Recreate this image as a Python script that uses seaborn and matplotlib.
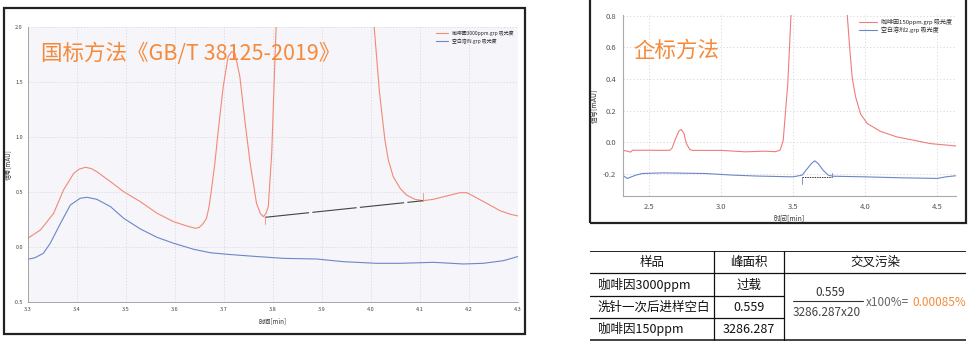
import matplotlib
matplotlib.use("Agg")
import matplotlib.pyplot as plt
from matplotlib.patches import Rectangle
from matplotlib.lines import Line2D
import seaborn as sns
import pandas as pd

sns.set_theme(style="white")
plt.rcParams["font.family"] = ["Noto Sans CJK SC", "DejaVu Sans"]
plt.rcParams["axes.unicode_minus"] = False

# ---- GB/T 38125-2019 method: 3000 ppm caffeine vs. blank ----
gb_std_t = [3.300, 3.326, 3.353, 3.373, 3.394, 3.405, 3.418, 3.430, 3.441, 3.469,
            3.496, 3.530, 3.564, 3.598, 3.625, 3.642, 3.650, 3.658, 3.665, 3.670,
            3.676, 3.682, 3.688, 3.699, 3.709, 3.716, 3.723, 3.733, 3.743, 3.754,
            3.767, 3.775, 3.781, 3.786, 3.791, 3.798, 3.805, 3.807, 3.820, 3.900,
            3.995, 4.007, 4.018, 4.029, 4.036, 4.046, 4.060, 4.073, 4.090, 4.107,
            4.128, 4.155, 4.182, 4.196, 4.209, 4.237, 4.264, 4.285, 4.300]
gb_std_v = [0.076, 0.152, 0.304, 0.515, 0.667, 0.705, 0.722, 0.710, 0.682, 0.591,
            0.500, 0.409, 0.304, 0.227, 0.188, 0.167, 0.175, 0.210, 0.260, 0.360,
            0.550, 0.760, 1.020, 1.455, 1.727, 1.773, 1.758, 1.545, 1.152, 0.758,
            0.394, 0.300, 0.273, 0.300, 0.364, 0.850, 1.758, 2.000, 4.000, 30.00,
            3.500, 2.000, 1.400, 0.970, 0.788, 0.636, 0.531, 0.470, 0.431, 0.418,
            0.431, 0.461, 0.491, 0.491, 0.461, 0.394, 0.327, 0.295, 0.280]
gb_blank_t = [3.300, 3.315, 3.332, 3.346, 3.367, 3.387, 3.407, 3.421, 3.441, 3.469,
              3.496, 3.530, 3.564, 3.598, 3.639, 3.673, 3.707, 3.754, 3.822, 3.890,
              3.944, 4.012, 4.060, 4.128, 4.189, 4.230, 4.271, 4.300]
gb_blank_v = [-0.115, -0.100, -0.060, 0.031, 0.213, 0.379, 0.440, 0.449, 0.431, 0.364,
              0.258, 0.161, 0.085, 0.031, -0.024, -0.055, -0.069, -0.085, -0.106, -0.112,
              -0.136, -0.151, -0.151, -0.142, -0.157, -0.151, -0.127, -0.090]
gb_base_t = [3.784, 4.107]
gb_base_v = [0.267, 0.418]

# ---- In-house method: 150 ppm caffeine vs. blank after needle wash ----
ih_std_t = [2.315, 2.350, 2.373, 2.385, 2.500, 2.600, 2.645, 2.660, 2.681, 2.708,
            2.724, 2.743, 2.759, 2.783, 2.800, 2.900, 3.000, 3.170, 3.300, 3.380,
            3.410, 3.431, 3.447, 3.463, 3.477, 3.490, 3.520, 3.700, 3.860, 3.876,
            3.894, 3.910, 3.933, 3.968, 4.014, 4.106, 4.220, 4.338, 4.450, 4.630]
ih_std_v = [-0.049, -0.055, -0.061, -0.049, -0.049, -0.050, -0.049, -0.036, 0.015, 0.073,
            0.082, 0.057, -0.006, -0.044, -0.050, -0.050, -0.050, -0.059, -0.055, -0.058,
            -0.048, 0.010, 0.190, 0.370, 0.640, 0.900, 2.000, 25.00, 1.300, 0.800,
            0.580, 0.410, 0.290, 0.180, 0.120, 0.070, 0.035, 0.014, -0.007, -0.022]
ih_blank_t = [2.315, 2.349, 2.410, 2.453, 2.600, 2.894, 3.078, 3.250, 3.500, 3.563,
              3.590, 3.627, 3.650, 3.674, 3.708, 3.743, 3.775, 4.000, 4.240, 4.500,
              4.560, 4.630]
ih_blank_v = [-0.206, -0.227, -0.206, -0.196, -0.192, -0.196, -0.206, -0.212, -0.217, -0.206,
              -0.175, -0.133, -0.116, -0.133, -0.175, -0.206, -0.213, -0.217, -0.223, -0.227,
              -0.217, -0.210]
ih_base_t = [3.560, 3.770]
ih_base_v = [-0.221, -0.221]

# ---- Cross-contamination table ----
tbl_header = ["样品", "峰面积", "交叉污染"]
tbl_samples = ["咖啡因3000ppm", "洗针一次后进样空白", "咖啡因150ppm"]
tbl_areas = ["过载", "0.559", "3286.287"]
blank_area = "0.559"
std_area_expr = "3286.287x20"
contamination = "0.00085%"

RED_L = "#F28A76"
RED_R = "#F07C7C"
BLUE = "#6C86C8"
ORANGE = "#F58A3A"

W, H = 976, 346
fig = plt.figure(figsize=(W / 100, H / 100), dpi=100)


def frac_box(x0, y0, x1, y1):
    return [x0 / W, 1 - y1 / H, (x1 - x0) / W, (y1 - y0) / H]


def border(x0, y0, x1, y1, lw=1.6):
    fig.patches.append(Rectangle((x0 / W, 1 - y1 / H), (x1 - x0) / W, (y1 - y0) / H,
                                 transform=fig.transFigure, fill=False,
                                 edgecolor="#222222", linewidth=lw))


# ---------------- left chart ----------------
border(4, 8, 525, 334)
axL = fig.add_axes(frac_box(27.7, 26.7, 517.7, 301.7))
axL.set_facecolor("#F5F5FA")
dfL1 = pd.DataFrame({"t": gb_std_t, "v": gb_std_v})
dfL2 = pd.DataFrame({"t": gb_blank_t, "v": gb_blank_v})
sns.lineplot(data=dfL1, x="t", y="v", ax=axL, color=RED_L, lw=0.8, estimator=None, sort=False)
sns.lineplot(data=dfL2, x="t", y="v", ax=axL, color=BLUE, lw=0.8, estimator=None, sort=False)
axL.plot(gb_base_t, gb_base_v, color="#444444", lw=0.8, ls=(0, (40, 3)))
axL.plot([gb_base_t[0], gb_base_t[0]], [gb_base_v[0], gb_base_v[0] - 0.06], color=RED_L, lw=0.6)
axL.plot([gb_base_t[1], gb_base_t[1]], [gb_base_v[1], gb_base_v[1] + 0.07], color=RED_L, lw=0.6)
axL.set_xlim(3.3, 4.3)
axL.set_ylim(-0.5, 2.0)
axL.set_xticks([3.3 + 0.1 * i for i in range(11)])
axL.set_xticklabels([f"{3.3 + 0.1 * i:.1f}" for i in range(11)])
axL.set_yticks([-0.5, 0.0, 0.5, 1.0, 1.5, 2.0])
axL.set_yticklabels(["-0.5", "0.0", "0.5", "1.0", "1.5", "2.0"])
axL.grid(True, color="#D8D8E0", lw=0.6, ls=(0, (1.5, 2)))
axL.tick_params(labelsize=4, colors="#444444", length=1.5, width=0.5, pad=2)
for s in ["top", "right"]:
    axL.spines[s].set_visible(False)
for s in ["left", "bottom"]:
    axL.spines[s].set_color("#999999")
    axL.spines[s].set_linewidth(0.6)
axL.set_xlabel("时间[min]", fontsize=4.5, color="#333333", labelpad=4)
axL.set_ylabel("信号[mAU]", fontsize=4.5, color="#333333", labelpad=1)
axL.legend(handles=[Line2D([], [], color=RED_L, lw=0.8), Line2D([], [], color=BLUE, lw=0.8)],
           labels=["咖啡因3000ppm.grp 吸光度", "空白溶剂.grp 吸光度"],
           loc="upper right", fontsize=3.5, frameon=False, handlelength=2.5,
           borderaxespad=0.4, labelspacing=0.5)
axL.text(0.027, 0.90, "国标方法《GB/T 38125-2019》", transform=axL.transAxes,
         fontsize=15.5, color=ORANGE, va="center", ha="left")

# ---------------- right chart ----------------
border(590, -4, 966, 223)
axR = fig.add_axes(frac_box(623, 15, 956, 196))
axR.set_facecolor("white")
dfR1 = pd.DataFrame({"t": ih_std_t, "v": ih_std_v})
dfR2 = pd.DataFrame({"t": ih_blank_t, "v": ih_blank_v})
sns.lineplot(data=dfR1, x="t", y="v", ax=axR, color=RED_R, lw=0.8, estimator=None, sort=False)
sns.lineplot(data=dfR2, x="t", y="v", ax=axR, color=BLUE, lw=0.8, estimator=None, sort=False)
axR.plot(ih_base_t, ih_base_v, color="#333333", lw=0.7, ls=(0, (1.5, 1)))
axR.plot([ih_base_t[0], ih_base_t[0]], [ih_base_v[0], ih_base_v[0] - 0.04], color=BLUE, lw=0.6)
axR.plot([ih_base_t[1], ih_base_t[1]], [ih_base_v[1], ih_base_v[1] + 0.03], color=BLUE, lw=0.6)
axR.set_xlim(2.32, 4.63)
axR.set_ylim(-0.338, 0.805)
axR.set_xticks([2.5, 3.0, 3.5, 4.0, 4.5])
axR.set_xticklabels(["2.5", "3.0", "3.5", "4.0", "4.5"])
axR.set_yticks([-0.2, 0.0, 0.2, 0.4, 0.6, 0.8])
axR.set_yticklabels(["-0.2", "0.0", "0.2", "0.4", "0.6", "0.8"])
axR.grid(True, color="#D5D5D5", lw=0.6, ls=(0, (1.5, 2.5)))
axR.tick_params(labelsize=5.5, colors="#555555", length=2, width=0.5, pad=3)
for s in ["top", "right"]:
    axR.spines[s].set_visible(False)
for s in ["left", "bottom"]:
    axR.spines[s].set_color("#AAAAAA")
    axR.spines[s].set_linewidth(0.8)
axR.set_xlabel("时间[min]", fontsize=5, color="#333333", labelpad=3)
axR.set_ylabel("信号[mAU]", fontsize=5, color="#333333", labelpad=3)
axR.legend(handles=[Line2D([], [], color=RED_R, lw=0.8), Line2D([], [], color=BLUE, lw=0.8)],
           labels=["咖啡因150ppm.grp 吸光度", "空白溶剂2.grp 吸光度"],
           loc="upper right", fontsize=4.3, frameon=False, handlelength=3,
           borderaxespad=0.2, labelspacing=0.3)
axR.text(0.03, 0.80, "企标方法", transform=axR.transAxes,
         fontsize=15.5, color=ORANGE, va="center", ha="left")

# ---------------- table ----------------
axT = fig.add_axes(frac_box(590, 251, 966, 341))
axT.set_xlim(0, 376)
axT.set_ylim(90, 0)
axT.axis("off")
c1, c2 = 124, 194
row_edges = [0, 22, 45, 67, 89]
line_kw = dict(color="#111111", lw=0.9)
axT.plot([0, 376], [0, 0], color="#111111", lw=1.3)
axT.plot([0, 376], [22, 22], **line_kw)
axT.plot([0, c2], [45, 45], **line_kw)
axT.plot([0, c2], [67, 67], **line_kw)
axT.plot([0, 376], [89, 89], color="#111111", lw=1.1)
axT.plot([c1, c1], [0, 89], **line_kw)
axT.plot([c2, c2], [0, 89], **line_kw)

fs = 9
for xc, txt in zip([c1 / 2, (c1 + c2) / 2, (c2 + 376) / 2], tbl_header):
    axT.text(xc, 11.5, txt, ha="center", va="center", fontsize=fs, color="#111111")
for i, (s, a) in enumerate(zip(tbl_samples, tbl_areas)):
    yc = (row_edges[i + 1] + row_edges[i + 2]) / 2 + 0.5
    axT.text(8, yc, s, ha="left", va="center", fontsize=fs, color="#111111")
    axT.text((c1 + c2) / 2, yc, a, ha="center", va="center", fontsize=fs, color="#111111")

axT.text(240, 41, blank_area, ha="center", va="center", fontsize=8.5, color="#333333")
axT.plot([203, 273], [50, 50], color="#333333", lw=0.8)
axT.text(203, 61, std_area_expr, ha="left", va="center", fontsize=8.5, color="#444444")
axT.text(276, 51, "x100%=", ha="left", va="center", fontsize=8.5, color="#666666")
axT.text(376, 51, contamination, ha="right", va="center", fontsize=8.5, color=ORANGE)

fig.savefig("out.png", dpi=100)
